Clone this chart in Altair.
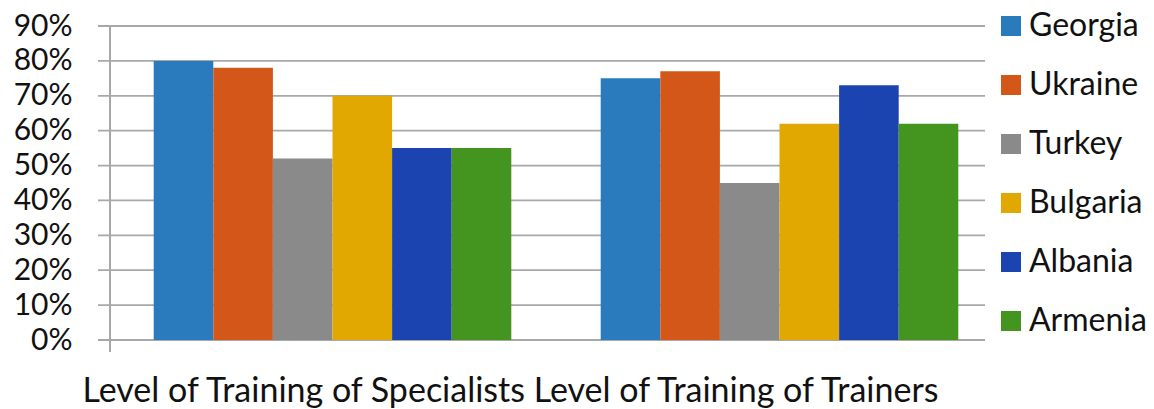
import altair as alt
import pandas as pd

# Survey results by country for the two training levels
categories = ["Level of Training of Specialists", "Level of Training of Trainers"]
countries = ["Georgia", "Ukraine", "Turkey", "Bulgaria", "Albania", "Armenia"]
specialists = [0.80, 0.78, 0.52, 0.70, 0.55, 0.55]
trainers = [0.75, 0.77, 0.45, 0.62, 0.73, 0.62]
colors = ["#2a7bbd", "#d4571a", "#8a8a8a", "#e0a800", "#1c44b0", "#44951f"]
y_ticks = [0.0, 0.1, 0.2, 0.3, 0.4, 0.5, 0.6, 0.7, 0.8, 0.9]

FONT = "Lato"
GRID = "#a8a8a8"

rows = []
for cat, vals in zip(categories, [specialists, trainers]):
    for c, v in zip(countries, vals):
        rows.append({"category": cat, "country": c, "value": v})
df = pd.DataFrame(rows)
grid_df = pd.DataFrame({"tick": y_ticks})

y_scale = alt.Scale(domain=[0, 0.9], nice=False, zero=True)
y_axis = alt.Axis(
    values=y_ticks, format=".0%", grid=False, domain=False, ticks=False,
    labelFont=FONT, labelFontSize=30, labelColor="#111111",
    labelPadding=37, labelOverlap=False, labelBound=False, title=None,
)

bars = alt.Chart(df).mark_bar().encode(
    x=alt.X(
        "category:N",
        sort=categories,
        scale=alt.Scale(paddingInner=0.2, paddingOuter=0.1),
        axis=alt.Axis(
            labels=False, ticks=False, domain=False, grid=False,
            title=" ".join(categories),
            titleFont=FONT, titleFontSize=34, titleFontWeight="normal",
            titleColor="#111111", titleAnchor="start", titleAlign="left",
            titleBaseline="alphabetic", titleX=-27, titleY=61,
        ),
    ),
    xOffset=alt.XOffset("country:N", sort=countries,
                        scale=alt.Scale(paddingInner=0, paddingOuter=0)),
    y=alt.Y("value:Q", scale=y_scale, axis=y_axis),
    color=alt.Color(
        "country:N",
        sort=countries,
        scale=alt.Scale(domain=countries, range=colors),
        legend=alt.Legend(
            title=None, orient="none", legendX=886, legendY=-16,
            symbolType="square", symbolSize=400, symbolStrokeWidth=0,
            symbolOpacity=1, labelFont=FONT, labelFontSize=32,
            labelColor="#111111", labelOffset=2, rowPadding=27, padding=0,
            labelLimit=300,
        ),
    ),
)

# Horizontal gridlines, running a little left of the value axis
grid = alt.Chart(grid_df).mark_rule(color=GRID, strokeWidth=1.8).encode(
    y=alt.Y("tick:Q", scale=y_scale, axis=y_axis),
    x=alt.value(-11),
    x2=alt.value(876),
)

# Vertical value-axis line, extending slightly below zero
axis_line = alt.Chart(grid_df).mark_rule(color=GRID, strokeWidth=1.8).encode(
    x=alt.value(1),
    y=alt.value(0),
    y2=alt.value(326),
)

chart = alt.layer(grid, axis_line, bars).properties(
    width=894,
    height=314,
    autosize=alt.AutoSizeParams(type="none"),
    padding={"left": 109, "top": 26, "right": 151, "bottom": 69},
    background="white",
).configure_view(stroke=None)

chart.save("out.html", embed_options={"renderer": "svg", "actions": False})
